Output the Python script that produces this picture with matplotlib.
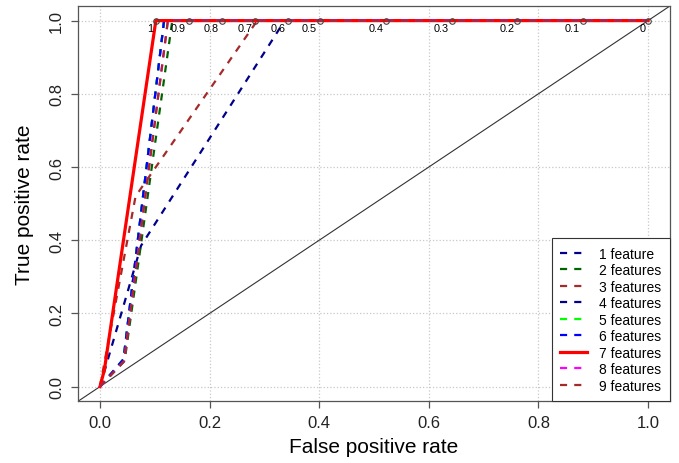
import numpy as np
import matplotlib
matplotlib.use("Agg")
import matplotlib.pyplot as plt

plt.rcParams['font.family'] = ['Liberation Sans', 'DejaVu Sans']

# ROC curves (fpr, tpr) per feature count
labels = ["1 feature", "2 features", "3 features", "4 features", "5 features",
          "6 features", "7 features", "8 features", "9 features"]
colors = ["#00008B", "#006400", "#A52A2A", "#00008B", "#00FF00",
          "#0000FF", "#FF0000", "#FF00FF", "#A52A2A"]

fpr_1 = [0, 0.075, 0.337, 1.0]
tpr_1 = [0, 0.385, 1.0, 1.0]
fpr_2 = [0, 0.045, 0.132, 1.0]
tpr_2 = [0, 0.07, 1.0, 1.0]
fpr_3 = [0, 0.065, 0.287, 1.0]
tpr_3 = [0, 0.52, 1.0, 1.0]
fpr_4 = [0, 0.043, 0.117, 1.0]
tpr_4 = [0, 0.075, 1.0, 1.0]
fpr_5 = [0, 0.043, 0.117, 1.0]
tpr_5 = [0, 0.075, 1.0, 1.0]
fpr_6 = [0, 0.043, 0.117, 1.0]
tpr_6 = [0, 0.075, 1.0, 1.0]
fpr_7 = [0, 0.008, 0.102, 1.0]
tpr_7 = [0, 0.045, 1.0, 1.0]
fpr_8 = [0, 0.044, 0.124, 1.0]
tpr_8 = [0, 0.07, 1.0, 1.0]
fpr_9 = [0, 0.044, 0.124, 1.0]
tpr_9 = [0, 0.07, 1.0, 1.0]

fprs = [fpr_1, fpr_2, fpr_3, fpr_4, fpr_5, fpr_6, fpr_7, fpr_8, fpr_9]
tprs = [tpr_1, tpr_2, tpr_3, tpr_4, tpr_5, tpr_6, tpr_7, tpr_8, tpr_9]

# cutoff marks on the 7-feature curve
cutoff_labels = ["1", "0.9", "0.8", "0.7", "0.6", "0.5", "0.4", "0.3", "0.2", "0.1", "0"]
cutoff_fpr = [0.102, 0.162, 0.2225, 0.283, 0.343, 0.401, 0.522, 0.642, 0.761, 0.881, 1.0]
cutoff_tpr = [1.0] * len(cutoff_fpr)

fig = plt.figure(figsize=(6.79, 4.64), dpi=100)
ax = fig.add_axes([0.1149, 0.133, 0.8718, 0.852])

ax.set_xlim(-0.04, 1.04)
ax.set_ylim(-0.04, 1.04)
ticks = np.arange(0, 1.01, 0.2)
ax.set_xticks(ticks)
ax.set_yticks(ticks)
ax.set_xticklabels([f"{t:.1f}" for t in ticks])
ax.set_yticklabels([f"{t:.1f}" for t in ticks], rotation=90, va='center')
ax.grid(True, color='#c8c8c8', linestyle=':', linewidth=0.9)
ax.set_axisbelow(True)

ax.axline((0, 0), (1, 1), color='#333333', linewidth=0.8, zorder=1)

for i in range(9):
    if i == 6:
        ax.plot(fprs[i], tprs[i], color=colors[i], linewidth=2.3, label=labels[i], zorder=3)
    else:
        ax.plot(fprs[i], tprs[i], color=colors[i], linewidth=1.6, label=labels[i],
                dashes=(3.2, 3.2), zorder=3)

ax.plot(cutoff_fpr, cutoff_tpr, linestyle='none', marker='o', markersize=4,
        markerfacecolor='none', markeredgecolor='#444444', markeredgewidth=0.8, zorder=4)
for x, y, s in zip(cutoff_fpr, cutoff_tpr, cutoff_labels):
    ax.annotate(s, (x, y), xytext=(-2, -1.5), textcoords='offset points',
                ha='right', va='top', fontsize=7.8, zorder=5)

for sp in ax.spines.values():
    sp.set_color('#555555')
    sp.set_linewidth(0.9)
ax.tick_params(axis='both', colors='#555555', length=5, width=0.9, labelsize=12,
               labelcolor='#222222')
ax.tick_params(axis='x', pad=5)
ax.tick_params(axis='y', pad=5)

ax.set_xlabel("False positive rate", fontsize=15)
ax.set_ylabel("True positive rate", fontsize=15)
ax.xaxis.set_label_coords(0.5, -0.09)
ax.yaxis.set_label_coords(-0.075, 0.5)

leg = ax.legend(loc='lower right', fontsize=10, borderaxespad=0, fancybox=False,
                framealpha=1, edgecolor='#333333', handlelength=1.9,
                handletextpad=0.9, labelspacing=0.18, borderpad=0.62)
leg.get_frame().set_linewidth(0.8)

fig.savefig("out.png", dpi=100)
